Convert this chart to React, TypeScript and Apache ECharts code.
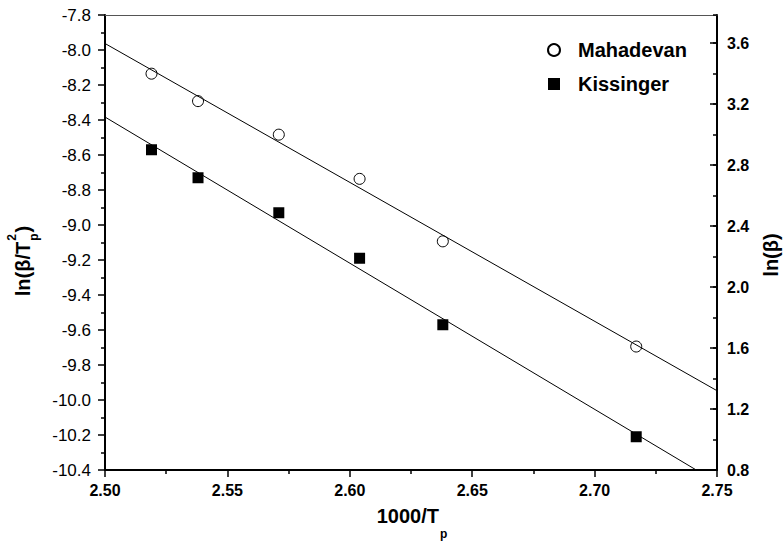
import React, { useEffect, useRef } from "react";
import * as echarts from "echarts";

// Peak positions (1000/Tp) for six heating rates
const invTp = [2.519, 2.538, 2.571, 2.604, 2.638, 2.717];
// Kissinger ordinate ln(β/Tp²), left axis
const kissinger = [-8.57, -8.73, -8.93, -9.19, -9.57, -10.21];
// Mahadevan ordinate ln(β), right axis
const mahadevan = [3.4, 3.22, 3.0, 2.71, 2.3, 1.61];

const xRange = [2.5, 2.75];
const leftRange = [-10.4, -7.8];
const rightRange = [0.8, 3.785];

const FONT = "'Liberation Sans', Arial, Helvetica, sans-serif";

// Least-squares straight line through the points, evaluated at the x-axis ends
function fitLine(xs: number[], ys: number[]): number[][] {
  const n = xs.length;
  const mx = xs.reduce((s, v) => s + v, 0) / n;
  const my = ys.reduce((s, v) => s + v, 0) / n;
  let sxy = 0;
  let sxx = 0;
  for (let i = 0; i < n; i++) {
    sxy += (xs[i] - mx) * (ys[i] - my);
    sxx += (xs[i] - mx) * (xs[i] - mx);
  }
  const slope = sxy / sxx;
  const icpt = my - slope * mx;
  return xRange.map((x) => [x, icpt + slope * x]);
}

function zip(xs: number[], ys: number[]): number[][] {
  return xs.map((x, i) => [x, ys[i]]);
}

function textWidth(s: string, size: number, weight: string): number {
  const ctx = document.createElement("canvas").getContext("2d");
  if (!ctx) return s.length * size * 0.55;
  ctx.font = `${weight} ${size}px ${FONT}`;
  return ctx.measureText(s).width;
}

const txt = (text: string, size: number, extra: any = {}) => ({
  text,
  fontSize: size,
  fontWeight: "bold",
  fontFamily: FONT,
  fill: "#000",
  verticalAlign: "middle",
  ...extra,
});

export default function App() {
  const ref = useRef<HTMLDivElement>(null);

  useEffect(() => {
    if (!ref.current) return;
    const chart = echarts.init(ref.current, null, { renderer: "svg" });

    const mainSize = 20;
    const subSize = 12;

    // left title: ln(β/T²p), rotated
    const w1 = textWidth("ln(β/T", mainSize, "bold");
    const wSub = Math.max(textWidth("2", subSize, "bold"), textWidth("p", subSize, "bold"));
    const wClose = textWidth(")", mainSize, "bold");
    const leftTotal = w1 + 1 + wSub + 1 + wClose;

    // bottom title: 1000/Tp
    const wb = textWidth("1000/T", mainSize, "bold");
    const wbp = textWidth("p", subSize, "bold");
    const bottomStart = 412 - (wb + 1 + wbp) / 2;

    const tickStyle = { color: "#000", width: 1.5 };

    chart.setOption({
      animation: false,
      backgroundColor: "#fff",
      grid: [
        { left: 105, right: 66, top: 15, bottom: 72, containLabel: false },
        { left: 105, right: 66, top: 15, bottom: 72, containLabel: false },
      ],
      legend: {
        orient: "vertical",
        left: 542,
        top: 35,
        itemWidth: 12,
        itemHeight: 12,
        itemGap: 14,
        textStyle: {
          fontSize: 20,
          fontWeight: "bold",
          fontFamily: FONT,
          color: "#000",
          padding: [0, 0, 0, 13],
        },
        data: [
          { name: "Mahadevan", icon: "circle" },
          { name: "Kissinger", icon: "rect" },
        ],
      },
      xAxis: [
        {
          type: "value",
          gridIndex: 0,
          position: "bottom",
          min: xRange[0],
          max: xRange[1],
          interval: 0.05,
          axisLine: { show: true, onZero: false, lineStyle: { color: "#000", width: 2 } },
          axisTick: { show: true, inside: false, length: 7, lineStyle: tickStyle },
          minorTick: { show: true, splitNumber: 2, length: 4, lineStyle: tickStyle },
          axisLabel: {
            margin: 12,
            color: "#000",
            fontSize: 16,
            fontWeight: "bold",
            fontFamily: FONT,
            formatter: (v: number) => v.toFixed(2),
          },
          splitLine: { show: false },
        },
        {
          type: "value",
          gridIndex: 0,
          position: "top",
          min: xRange[0],
          max: xRange[1],
          axisLine: { show: true, onZero: false, lineStyle: { color: "#555", width: 1 } },
          axisTick: { show: false },
          axisLabel: { show: false },
          splitLine: { show: false },
        },
        {
          type: "value",
          gridIndex: 1,
          min: xRange[0],
          max: xRange[1],
          show: false,
        },
      ],
      yAxis: [
        {
          type: "value",
          gridIndex: 0,
          position: "left",
          min: leftRange[0],
          max: leftRange[1],
          interval: 0.2,
          axisLine: { show: true, onZero: false, lineStyle: { color: "#000", width: 2 } },
          axisTick: { show: true, inside: false, length: 7, lineStyle: tickStyle },
          minorTick: { show: true, splitNumber: 2, length: 4, lineStyle: tickStyle },
          axisLabel: {
            margin: 14,
            color: "#000",
            fontSize: 17,
            fontFamily: FONT,
            formatter: (v: number) => v.toFixed(1),
          },
          splitLine: { show: false },
        },
        {
          type: "value",
          gridIndex: 0,
          position: "right",
          min: rightRange[0],
          max: rightRange[1],
          interval: 0.4,
          axisLine: { show: true, onZero: false, lineStyle: { color: "#000", width: 2 } },
          axisTick: { show: true, inside: true, length: 7, lineStyle: tickStyle },
          axisLabel: {
            margin: 10,
            color: "#000",
            fontSize: 16,
            fontWeight: "bold",
            fontFamily: FONT,
            showMaxLabel: false,
            formatter: (v: number) =>
              Math.abs(v * 2.5 - Math.round(v * 2.5)) < 1e-6 ? v.toFixed(1) : "",
          },
          splitLine: { show: false },
        },
        {
          // short intermediate ticks of the right axis
          type: "value",
          gridIndex: 1,
          position: "right",
          min: rightRange[0],
          max: rightRange[1],
          interval: 0.2,
          axisLine: { show: false },
          axisTick: { show: true, inside: true, length: 4, lineStyle: tickStyle },
          axisLabel: { show: false },
          splitLine: { show: false },
        },
      ],
      series: [
        {
          type: "line",
          name: "Mahadevan fit",
          xAxisIndex: 0,
          yAxisIndex: 1,
          data: fitLine(invTp, mahadevan),
          symbol: "none",
          clip: true,
          lineStyle: { color: "#000", width: 1 },
          silent: true,
          z: 2,
        },
        {
          type: "line",
          name: "Kissinger fit",
          xAxisIndex: 0,
          yAxisIndex: 0,
          data: fitLine(invTp, kissinger),
          symbol: "none",
          clip: true,
          lineStyle: { color: "#000", width: 1 },
          silent: true,
          z: 2,
        },
        {
          type: "scatter",
          name: "Mahadevan",
          xAxisIndex: 0,
          yAxisIndex: 1,
          data: zip(invTp, mahadevan),
          symbol: "circle",
          symbolSize: 11,
          itemStyle: {
            color: "rgba(255,255,255,0)",
            borderColor: "#000",
            borderWidth: 1,
            opacity: 1,
          },
          z: 3,
        },
        {
          type: "scatter",
          name: "Kissinger",
          xAxisIndex: 0,
          yAxisIndex: 0,
          data: zip(invTp, kissinger),
          symbol: "rect",
          symbolSize: 11,
          itemStyle: { color: "#000", opacity: 1 },
          z: 3,
        },
      ],
      graphic: [
        {
          type: "group",
          x: 23,
          y: 261 + leftTotal / 2,
          rotation: Math.PI / 2,
          children: [
            { type: "text", x: 0, y: 0, style: txt("ln(β/T", mainSize, { align: "left" }) },
            { type: "text", x: w1 + 1, y: -11, style: txt("2", subSize, { align: "left" }) },
            { type: "text", x: w1 + 1, y: 11, style: txt("p", subSize, { align: "left" }) },
            { type: "text", x: w1 + 2 + wSub, y: 0, style: txt(")", mainSize, { align: "left" }) },
          ],
        },
        {
          type: "text",
          x: 771,
          y: 255,
          rotation: Math.PI / 2,
          style: txt("ln(β)", mainSize, { align: "center" }),
        },
        {
          type: "text",
          x: bottomStart,
          y: 516,
          style: txt("1000/T", mainSize, { align: "left" }),
        },
        {
          type: "text",
          x: bottomStart + wb + 1,
          y: 534,
          style: txt("p", subSize, { align: "left" }),
        },
      ],
    });

    return () => chart.dispose();
  }, []);

  return (
    <div
      ref={ref}
      style={{ position: "fixed", left: 0, top: 0, width: 783, height: 542, background: "#fff" }}
    />
  );
}
